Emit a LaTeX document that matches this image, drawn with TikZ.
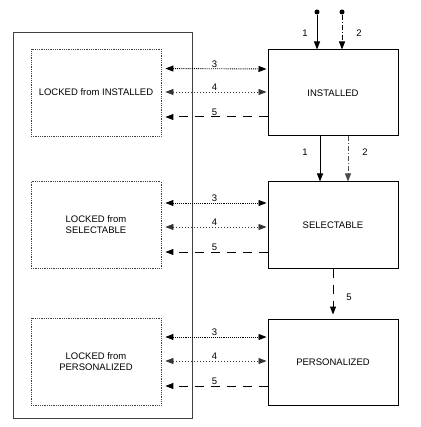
\documentclass[tikz,border=0pt]{standalone}
\usepackage{fontspec}
\setmainfont{Liberation Sans}
\usetikzlibrary{arrows.meta}

\begin{document}
\begin{tikzpicture}[x=1pt,y=-1pt,font=\fontsize{9.5}{11}\selectfont,
  tri/.tip={Triangle[length=8pt,width=6pt]},
  state/.style={draw,line width=1pt,minimum width=130pt,minimum height=86pt,align=center},
  locked/.style={draw=black!75,densely dotted,line width=0.8pt,minimum width=130pt,minimum height=87pt,align=center},
  sync/.style={line width=0.9pt,densely dotted,tri-tri,shorten <=4pt,shorten >=1pt},
  unsync/.style={line width=0.8pt,dash pattern=on 1pt off 2pt,draw=black!80,tri-tri,shorten <=4pt,shorten >=1pt},
  unlock/.style={line width=1pt,dash pattern=on 9pt off 7pt,-tri,shorten >=4pt},
  num/.style={inner sep=1pt}]
\useasboundingbox (0,0) rectangle (420,427);
% group of the locked states
\node [draw=black!75,line width=1pt,minimum width=179pt,minimum height=385pt] (lockgrp) at (102.5,225.5) {};
\node [locked] (linst) at (96,92.5) {LOCKED from INSTALLED};
\node [locked] (lsel) at (96,225) {LOCKED from\\SELECTABLE};
\node [locked] (lpers) at (96,361.5) {LOCKED from\\PERSONALIZED};
% life cycle states
\node [state] (inst) at (333,93) {INSTALLED};
\node [state] (sel) at (333,225) {SELECTABLE};
\node [state] (pers) at (333,362) {PERSONALIZED};
\node [circle,fill,inner sep=0pt,minimum size=5pt] (s1) at (317,12) {};
\node [circle,fill,inner sep=0pt,minimum size=5pt] (s2) at (342,12) {};
% transitions 1 and 2
\draw [line width=1pt,-tri] (s1) -- (s1 |- inst.north);
\draw [line width=1pt,dash pattern=on 5pt off 2pt on 1pt off 2pt,-tri] (s2) -- (s2 |- inst.north);
\node [num] at (305,33) {1};
\node [num] at (359,33) {2};
\draw [line width=1pt,-tri] ([xshift=-13pt]inst.south) -- ([xshift=-13pt]sel.north);
\draw [line width=1pt,draw=black!70,dash pattern=on 5pt off 2pt on 1pt off 2pt,-tri] ([xshift=15pt]inst.south) -- ([xshift=15pt]sel.north);
\node [num] at (305,152) {1};
\node [num] at (365,152) {2};
\draw [unlock] (sel) -- (pers);
\node [num] at (349,297) {5};
% transitions 3, 4 and 5
\draw [sync] ([yshift=24pt]linst.east) -- node [num,above] {3} ([yshift=24pt]inst.west);
\draw [unsync] ([yshift=0.5pt]linst.east) -- node [num,above] {4} ([yshift=1pt]inst.west);
\draw [unlock] ([yshift=-24pt]inst.west) -- node [num,above] {5} ([yshift=-24.5pt]linst.east);
\draw [sync] ([yshift=22pt]lsel.east) -- node [num,above] {3} ([yshift=22pt]sel.west);
\draw [unsync] ([yshift=-2pt]lsel.east) -- node [num,above] {4} ([yshift=-2pt]sel.west);
\draw [unlock] ([yshift=-27pt]sel.west) -- node [num,above] {5} ([yshift=-27pt]lsel.east);
\draw [sync] ([yshift=24.5pt]lpers.east) -- node [num,above] {3} ([yshift=25pt]pers.west);
\draw [unsync] ([yshift=0.5pt]lpers.east) -- node [num,above] {4} ([yshift=1pt]pers.west);
\draw [unlock] ([yshift=-24pt]pers.west) -- node [num,above] {5} ([yshift=-24.5pt]lpers.east);
\end{tikzpicture}
\end{document}
